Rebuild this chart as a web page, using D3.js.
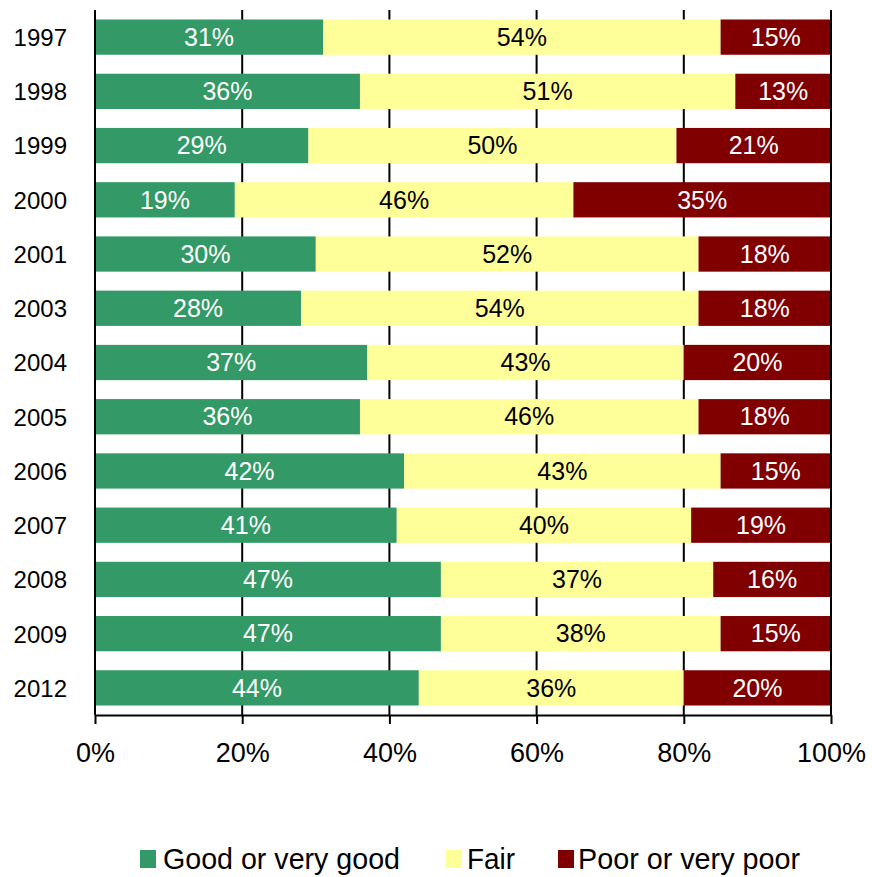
<!DOCTYPE html>
<html><head><meta charset="utf-8">
<script src="https://cdn.jsdelivr.net/npm/d3@7"></script>
<style>body{margin:0;background:#fff}svg{display:block;font-family:"Liberation Sans",Arial,sans-serif}</style>
</head><body>
<svg id="c" width="872" height="877"></svg>
<script>
const years = ["1997","1998","1999","2000","2001","2003","2004","2005","2006","2007","2008","2009","2012"];
const good = [31,36,29,19,30,28,37,36,42,41,47,47,44];
const fair = [54,51,50,46,52,54,43,46,43,40,37,38,36];
const poor = [15,13,21,35,18,18,20,18,15,19,16,15,20];
const seriesNames = ["Good or very good","Fair","Poor or very poor"];
const colors = ["#339966","#FFFF99","#800000"];
const textColors = ["#fff","#000","#fff"];
const xTicks = [0,20,40,60,80,100];

const svg = d3.select("#c");
const x = d3.scaleLinear().domain([0,100]).range([95,831]);
const y = d3.scaleBand().domain(years).range([10,715]).paddingInner(0.35).paddingOuter(0.175);

// gridlines
svg.append("g").selectAll("line").data(xTicks.slice(1)).join("line")
  .attr("x1",d=>x(d)).attr("x2",d=>x(d)).attr("y1",10).attr("y2",715)
  .attr("stroke","#000").attr("stroke-width",2);

const rows = years.map((yr,i)=>({year:yr, vals:[good[i],fair[i],poor[i]]}));
const segs = [];
rows.forEach(r=>{let c=0; r.vals.forEach((v,k)=>{segs.push({year:r.year,k,v,x0:c,x1:c+v}); c+=v;});});

svg.append("g").selectAll("rect").data(segs).join("rect")
  .attr("x",d=>x(d.x0)).attr("width",d=>x(d.x1)-x(d.x0))
  .attr("y",d=>y(d.year)).attr("height",y.bandwidth())
  .attr("fill",d=>colors[d.k]);

svg.append("g").selectAll("text").data(segs).join("text")
  .attr("x",d=>(x(d.x0)+x(d.x1))/2).attr("y",d=>y(d.year)+y.bandwidth()/2)
  .attr("dy","0.35em").attr("text-anchor","middle").attr("font-size",25)
  .attr("fill",d=>textColors[d.k]).text(d=>d.v+"%");

// right line at 100 on top
svg.append("line").attr("x1",x(100)).attr("x2",x(100)).attr("y1",10).attr("y2",715)
  .attr("stroke","#000").attr("stroke-width",2);

// y axis
const ya = svg.append("g").attr("transform","translate(95,0)").call(d3.axisLeft(y).tickSize(0).tickPadding(28));
ya.select(".domain").attr("stroke","#000").attr("stroke-width",2).attr("d","M0,10V715");
ya.selectAll("text").attr("font-size",24).attr("dy","0.37em").attr("fill","#000").attr("font-family","Liberation Sans, Arial, sans-serif");

// x axis
const xa = svg.append("g").attr("transform","translate(0,715)")
  .call(d3.axisBottom(x).tickValues(xTicks).tickFormat(d=>d+"%").tickSize(9).tickPadding(0).tickSizeOuter(0));
xa.select(".domain").attr("stroke","#000").attr("stroke-width",2);
xa.selectAll(".tick line").attr("stroke","#000").attr("stroke-width",2);
xa.selectAll("text").attr("font-size",27).attr("y",47).attr("dy",0).attr("fill","#000").attr("font-family","Liberation Sans, Arial, sans-serif");

// legend
const legX = [140,446,558];
const legW = [237,48,222];
const lg = svg.append("g").selectAll("g").data(seriesNames).join("g")
  .attr("transform",(d,i)=>`translate(${legX[i]},850)`);
lg.append("rect").attr("width",16).attr("height",18).attr("fill",(d,i)=>colors[i]);
lg.append("text").attr("x",(d,i)=>i===0?23:(i===1?21:20)).attr("y",19).attr("font-size",30)
  .attr("textLength",(d,i)=>legW[i]).attr("lengthAdjust","spacingAndGlyphs")
  .attr("fill","#000").text(d=>d);
</script>
</body></html>
